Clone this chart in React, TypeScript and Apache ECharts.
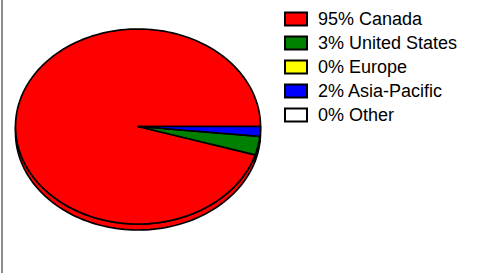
import React, { useEffect, useRef } from "react";
import * as echarts from "echarts";

const categories = ["Canada", "United States", "Europe", "Asia-Pacific", "Other"];
const values = [95.3, 3.1, 0, 1.6, 0];
const colors = ["#ff0000", "#008000", "#ffff00", "#0000ff", "#ffffff"];

const CX = 138;
const CY = 126.5;
const RX = 122.5;
const RY = 97.5;
const DEPTH = 6;

const total = values.reduce((s, v) => s + v, 0);

function pt(deg: number, dy = 0): number[] {
  const r = (deg * Math.PI) / 180;
  return [CX + RX * Math.cos(r), CY + dy + RY * Math.sin(r)];
}

function arcPoints(a: number, b: number, dy = 0): number[][] {
  const n = Math.max(1, Math.ceil((b - a) / 2));
  const pts: number[][] = [];
  for (let k = 0; k <= n; k++) pts.push(pt(a + ((b - a) * k) / n, dy));
  return pts;
}

function renderSlice(params: any, api: any) {
  const i = params.seriesIndex;
  const v = api.value(0);
  if (!v) return { type: "group", children: [] };
  const before = values.slice(0, i).reduce((s, x) => s + x, 0);
  const a = 360 * (1 - (before + v) / total);
  const b = 360 * (1 - before / total);
  const color = api.visual("color");
  const style = { fill: color, stroke: "#000", lineWidth: 1.7, lineJoin: "round" };
  const children: any[] = [];
  const lo = Math.max(a, 0);
  const hi = Math.min(b, 180);
  if (hi > lo) {
    const top = arcPoints(lo, hi, 0);
    const bottom = arcPoints(lo, hi, DEPTH).reverse();
    children.push({ type: "polygon", shape: { points: top.concat(bottom) }, style });
  }
  children.push({
    type: "polygon",
    shape: { points: [[CX, CY]].concat(arcPoints(a, b, 0)) },
    style,
  });
  return { type: "group", children };
}

export default function App() {
  const ref = useRef<HTMLDivElement>(null);
  useEffect(() => {
    if (!ref.current) return;
    const chart = echarts.init(ref.current, null, { renderer: "svg" });
    chart.setOption({
      animation: false,
      backgroundColor: "#ffffff",
      legend: {
        orient: "vertical",
        left: 284,
        top: 10,
        padding: 0,
        icon: "rect",
        itemWidth: 22,
        itemHeight: 13,
        itemGap: 6,
        data: categories,
        selectedMode: false,
        itemStyle: { borderColor: "#000", borderWidth: 2 },
        formatter: (name: string) => {
          const idx = categories.indexOf(name);
          return `${Math.round((values[idx] / total) * 100)}% ${name}`;
        },
        textStyle: {
          fontFamily: "'Liberation Sans', Arial, sans-serif",
          fontSize: 18,
          color: "#000",
          padding: [0, 0, 0, 6],
        },
      },
      graphic: [
        {
          type: "rect",
          shape: { x: 1, y: 0, width: 2, height: 273 },
          style: { fill: "#8c8c8c" },
          silent: true,
        },
      ],
      series: categories.map((name, i) => ({
        type: "custom",
        name,
        coordinateSystem: "none",
        itemStyle: { color: colors[i] },
        data: [values[i]],
        renderItem: renderSlice,
      })),
    });
    return () => chart.dispose();
  }, []);
  return (
    <div
      ref={ref}
      style={{ position: "fixed", left: 0, top: 0, width: 479, height: 273 }}
    />
  );
}
